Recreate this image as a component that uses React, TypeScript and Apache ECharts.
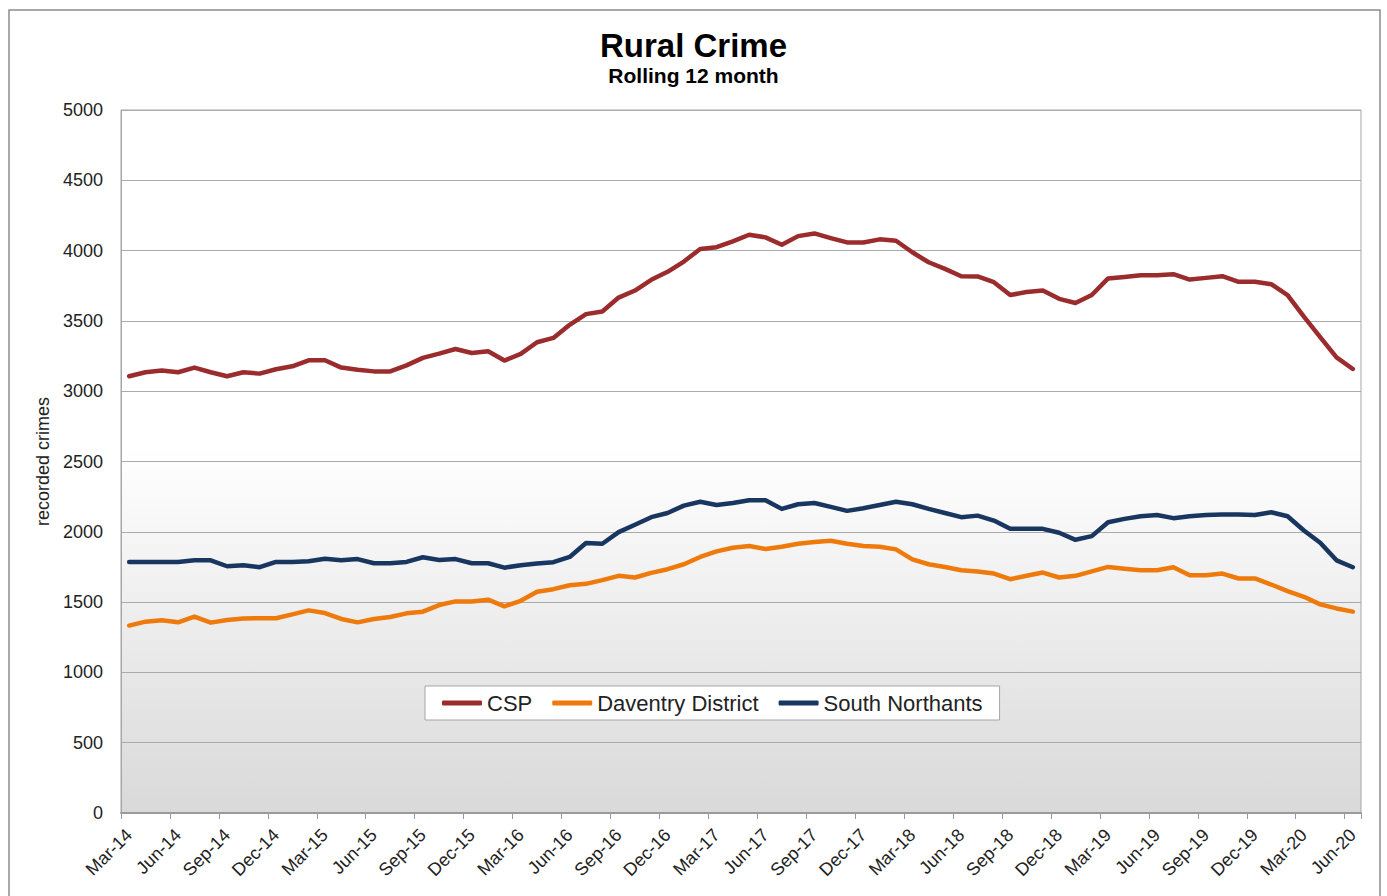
import React, { useEffect, useRef } from "react";
import * as echarts from "echarts";

const categories = [
  "Mar-14","Apr-14","May-14","Jun-14","Jul-14","Aug-14","Sep-14","Oct-14","Nov-14","Dec-14",
  "Jan-15","Feb-15","Mar-15","Apr-15","May-15","Jun-15","Jul-15","Aug-15","Sep-15","Oct-15","Nov-15","Dec-15",
  "Jan-16","Feb-16","Mar-16","Apr-16","May-16","Jun-16","Jul-16","Aug-16","Sep-16","Oct-16","Nov-16","Dec-16",
  "Jan-17","Feb-17","Mar-17","Apr-17","May-17","Jun-17","Jul-17","Aug-17","Sep-17","Oct-17","Nov-17","Dec-17",
  "Jan-18","Feb-18","Mar-18","Apr-18","May-18","Jun-18","Jul-18","Aug-18","Sep-18","Oct-18","Nov-18","Dec-18",
  "Jan-19","Feb-19","Mar-19","Apr-19","May-19","Jun-19","Jul-19","Aug-19","Sep-19","Oct-19","Nov-19","Dec-19",
  "Jan-20","Feb-20","Mar-20","Apr-20","May-20","Jun-20",
];

const cspValues = [
  3106, 3135, 3147, 3135, 3168, 3135, 3106, 3135, 3125, 3156,
  3177, 3220, 3220, 3168, 3153, 3141, 3141, 3184, 3237, 3267, 3300, 3272,
  3284, 3218, 3265, 3348, 3379, 3472, 3548, 3567, 3666, 3716, 3792, 3849,
  3922, 4012, 4024, 4066, 4113, 4094, 4042, 4103, 4122, 4089, 4058, 4058,
  4080, 4070, 3988, 3917, 3870, 3818, 3816, 3775, 3684, 3705, 3716, 3657,
  3627, 3684, 3802, 3813, 3825, 3825, 3832, 3794, 3806, 3818, 3778, 3778,
  3761, 3684, 3530, 3385, 3241, 3158,
];

const daventryValues = [
  1333, 1361, 1371, 1356, 1396, 1354, 1373, 1383, 1385, 1385,
  1413, 1441, 1422, 1380, 1356, 1380, 1394, 1420, 1432, 1479, 1505, 1505,
  1517, 1470, 1509, 1573, 1592, 1620, 1630, 1656, 1687, 1675, 1708, 1734,
  1769, 1821, 1861, 1887, 1899, 1878, 1894, 1915, 1927, 1936, 1915, 1899,
  1894, 1875, 1804, 1769, 1750, 1727, 1718, 1703, 1663, 1687, 1710, 1675,
  1687, 1719, 1750, 1738, 1727, 1727, 1748, 1691, 1691, 1703, 1668, 1668,
  1625, 1578, 1538, 1484, 1455, 1432,
];

const southNorthantsValues = [
  1786, 1786, 1786, 1786, 1797, 1797, 1755, 1762, 1748, 1786,
  1786, 1790, 1809, 1797, 1806, 1776, 1776, 1786, 1819, 1800, 1806, 1776,
  1776, 1745, 1762, 1774, 1784, 1821, 1920, 1915, 1998, 2050, 2104, 2134,
  2186, 2214, 2191, 2205, 2224, 2224, 2163, 2196, 2205, 2177, 2149, 2168,
  2191, 2214, 2196, 2163, 2134, 2104, 2115, 2080, 2021, 2021, 2021, 1993,
  1943, 1969, 2068, 2092, 2111, 2120, 2097, 2111, 2120, 2123, 2123, 2120,
  2139, 2111, 2009, 1922, 1797, 1748,
];

const seriesNames = ["CSP", "Daventry District", "South Northants"];
const seriesColors = ["#9b2c2e", "#ef7a0c", "#18365f"];

const FONT = "'Liberation Sans', Arial, sans-serif";

export default function App() {
  const ref = useRef<HTMLDivElement>(null);

  useEffect(() => {
    if (!ref.current) return;
    const chart = echarts.init(ref.current, null, { renderer: "svg" });
    const seriesData = [cspValues, daventryValues, southNorthantsValues];
    chart.setOption({
      animation: false,
      backgroundColor: "#ffffff",
      textStyle: { fontFamily: FONT },
      title: {
        text: "Rural Crime",
        subtext: "Rolling 12 month",
        left: "center",
        top: 29,
        padding: 0,
        itemGap: 3,
        textStyle: { fontFamily: FONT, fontSize: 33, fontWeight: "bold", color: "#000" },
        subtextStyle: { fontFamily: FONT, fontSize: 21, fontWeight: "bold", color: "#000" },
      },
      legend: {
        left: 425,
        top: 686,
        orient: "horizontal",
        icon: "roundRect",
        itemWidth: 40,
        itemHeight: 5,
        itemGap: 20,
        padding: [6, 17],
        backgroundColor: "#ffffff",
        borderColor: "#a6a6a6",
        borderWidth: 1,
        borderRadius: 0,
        textStyle: { fontFamily: FONT, fontSize: 22, color: "#222" },
        data: seriesNames,
      },
      grid: {
        left: 121,
        right: 26,
        top: 110,
        bottom: 83,
        show: true,
        borderColor: "#a6a6a6",
        borderWidth: 1,
        backgroundColor: {
          type: "linear",
          x: 0,
          y: 0,
          x2: 0,
          y2: 1,
          colorStops: [
            { offset: 0, color: "#ffffff" },
            { offset: 0.48, color: "#ffffff" },
            { offset: 1, color: "#d9d9d9" },
          ],
        },
      },
      xAxis: {
        type: "category",
        data: categories,
        boundaryGap: true,
        axisLine: { show: true, lineStyle: { color: "#9a9a9a", width: 2 } },
        axisTick: { show: true, interval: 2, length: 6, lineStyle: { color: "#9a9a9a", width: 1 } },
        axisLabel: {
          interval: 2,
          rotate: 45,
          margin: 19,
          fontSize: 18,
          color: "#222",
          fontFamily: FONT,
        },
        splitLine: { show: false },
      },
      yAxis: {
        type: "value",
        min: 0,
        max: 5000,
        interval: 500,
        name: "recorded crimes",
        nameLocation: "middle",
        nameGap: 55,
        nameTextStyle: { fontFamily: FONT, fontSize: 18, color: "#222" },
        axisLine: { show: true, lineStyle: { color: "#a6a6a6", width: 1 } },
        axisTick: { show: false },
        axisLabel: {
          fontSize: 18,
          color: "#222",
          margin: 18,
          fontFamily: FONT,
          formatter: (v: number) => String(v),
        },
        splitLine: { show: true, lineStyle: { color: "#ababab", width: 1 } },
      },
      graphic: [
        {
          type: "rect",
          shape: { x: 9, y: 10, width: 1371, height: 900 },
          style: { fill: "none", stroke: "#8c8c8c", lineWidth: 1.5 },
          silent: true,
          z: 100,
        },
      ],
      series: seriesNames.map((name, i) => ({
        name,
        type: "line",
        data: seriesData[i],
        showSymbol: false,
        symbol: "none",
        lineStyle: { color: seriesColors[i], width: 4.5, join: "round", cap: "round" },
        itemStyle: { color: seriesColors[i] },
        z: 3 + (2 - i),
      })),
    });
    return () => chart.dispose();
  }, []);

  return (
    <div
      ref={ref}
      style={{ position: "fixed", left: 0, top: 0, width: 1387, height: 896 }}
    />
  );
}
